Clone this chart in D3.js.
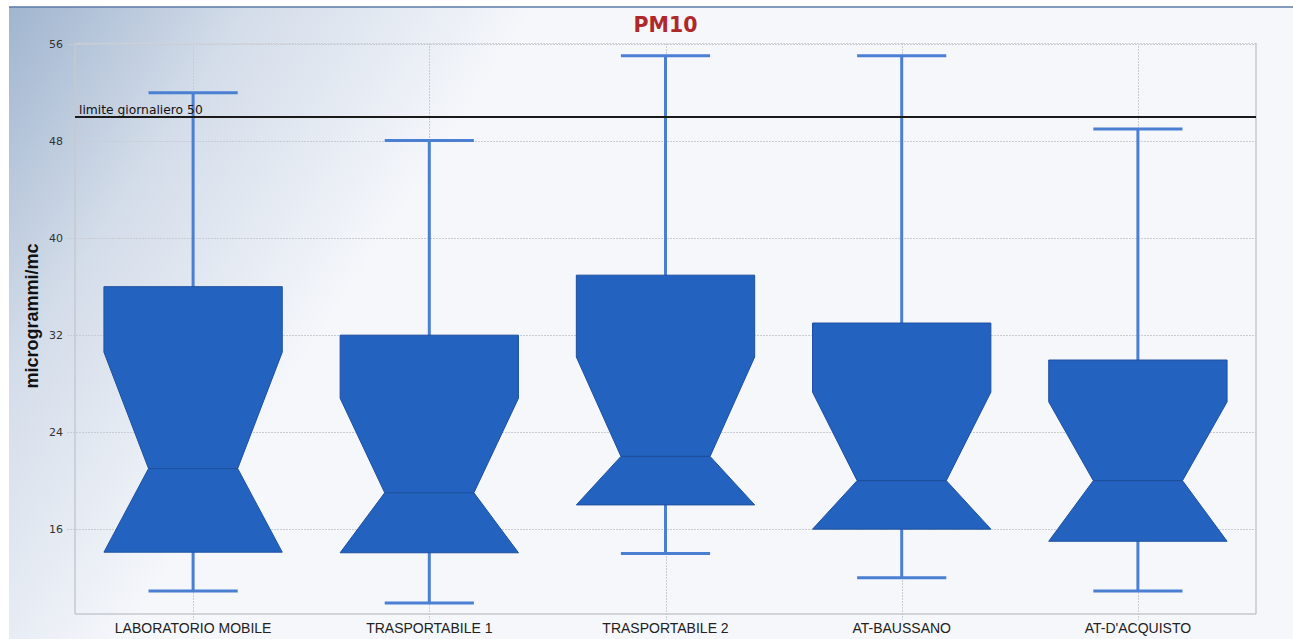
<!DOCTYPE html>
<html>
<head>
<meta charset="utf-8">
<script src="https://cdn.jsdelivr.net/npm/d3@7"></script>
<style>
  html, body { margin: 0; padding: 0; background: #ffffff; }
  svg { display: block; }
</style>
</head>
<body>
<svg id="chart" width="1293" height="639"></svg>
<script>
// ---- data ----
const categories = ["LABORATORIO MOBILE", "TRASPORTABILE 1", "TRASPORTABILE 2", "AT-BAUSSANO", "AT-D'ACQUISTO"];
const whiskerLow  = [10.9, 9.9, 14.0, 12.0, 10.9];
const q1          = [14.1, 14.05, 18.0, 16.0, 15.0];
const median      = [21.0, 19.0, 22.0, 20.0, 20.0];
const notchHigh   = [30.6, 26.8, 30.2, 27.3, 26.5];
const q3          = [36.0, 32.0, 36.95, 33.0, 29.95];
const whiskerHigh = [52.0, 48.05, 55.05, 55.05, 49.0];
const yTicks      = [16, 24, 32, 40, 48, 56];
const limitValue  = 50;
const limitLabel  = "limite giornaliero 50";
const titleText   = "PM10";
const yAxisTitle  = "microgrammi/mc";

// ---- layout ----
const svg = d3.select("#chart");
const W = 1293, H = 639;
const plot = { left: 75, right: 1256, top: 43, bottom: 614 };

const defs = svg.append("defs");
const grad = defs.append("linearGradient")
  .attr("id", "bg").attr("gradientUnits", "userSpaceOnUse")
  .attr("x1", 9).attr("y1", 7).attr("x2", 380).attr("y2", 250);
grad.append("stop").attr("offset", 0).attr("stop-color", "#a0b5cf");
grad.append("stop").attr("offset", 0.45).attr("stop-color", "#d3dce9");
grad.append("stop").attr("offset", 1).attr("stop-color", "#f5f7fb");

svg.append("rect").attr("x", 9).attr("y", 7).attr("width", W - 9).attr("height", H - 7)
  .attr("fill", "url(#bg)");
svg.append("line").attr("x1", 9).attr("x2", W).attr("y1", 7).attr("y2", 7)
  .attr("stroke", "#5a7aa9").attr("stroke-width", 1.5);

const x = d3.scaleBand().domain(categories).range([plot.left, plot.right]).padding(0);
const y = d3.scaleLinear().domain([9, 56.1]).range([plot.bottom, plot.top]);

// grid
const g = svg.append("g");
g.selectAll(".hgrid").data(yTicks).join("line")
  .attr("x1", plot.left - 8).attr("x2", plot.right)
  .attr("y1", d => Math.round(y(d)) + 0.5).attr("y2", d => Math.round(y(d)) + 0.5)
  .attr("stroke", "#c9ccd2").attr("stroke-width", 1).attr("stroke-dasharray", "2,1");
g.selectAll(".vgrid").data(categories).join("line")
  .attr("x1", d => Math.round(x(d) + x.bandwidth() / 2) + 0.5)
  .attr("x2", d => Math.round(x(d) + x.bandwidth() / 2) + 0.5)
  .attr("y1", plot.top).attr("y2", plot.bottom + 6)
  .attr("stroke", "#c9ccd2").attr("stroke-width", 1).attr("stroke-dasharray", "2,1");

// plot frame
g.append("line").attr("x1", plot.left).attr("x2", plot.right).attr("y1", plot.top + 0.5).attr("y2", plot.top + 0.5)
  .attr("stroke", "#cfd2d8").attr("stroke-dasharray", "2,1");
g.append("line").attr("x1", plot.left).attr("x2", plot.left).attr("y1", plot.top).attr("y2", plot.bottom)
  .attr("stroke", "#c6c9cf").attr("stroke-width", 1.5);
g.append("line").attr("x1", plot.right).attr("x2", plot.right).attr("y1", plot.top).attr("y2", plot.bottom)
  .attr("stroke", "#c6c9cf").attr("stroke-width", 1.5);
g.append("line").attr("x1", plot.left).attr("x2", plot.right).attr("y1", plot.bottom).attr("y2", plot.bottom)
  .attr("stroke", "#c6c9cf").attr("stroke-width", 1.5);

// y tick labels
const yAxis = d3.axisLeft(y).tickValues(yTicks).tickSize(0).tickPadding(0);
const ya = svg.append("g").attr("transform", `translate(${plot.left - 12},0)`).call(yAxis);
ya.select(".domain").remove();
ya.selectAll("text").attr("font-family", "DejaVu Sans").attr("font-size", 11).attr("fill", "#333");

// x tick labels
const xAxis = d3.axisBottom(x).tickSize(0).tickPadding(0);
const xa = svg.append("g").attr("transform", `translate(0,${plot.bottom + 9})`).call(xAxis);
xa.select(".domain").remove();
xa.selectAll("text").attr("font-family", "Liberation Sans").attr("font-size", 14).attr("fill", "#222");

// boxes
const data = categories.map((c, i) => ({
  c, lo: whiskerLow[i], q1: q1[i], med: median[i], nh: notchHigh[i], q3: q3[i], hi: whiskerHigh[i]
}));
const boxW = x.bandwidth() * 0.755;
const capW = boxW / 2;
const notchW = boxW / 2;
const whiskColor = "#4a7fd2";

const bg = svg.append("g");
data.forEach(d => {
  const cx = x(d.c) + x.bandwidth() / 2;
  bg.append("line").attr("x1", cx).attr("x2", cx).attr("y1", y(d.hi)).attr("y2", y(d.lo))
    .attr("stroke", whiskColor).attr("stroke-width", 3);
  [d.hi, d.lo].forEach(v => {
    bg.append("line").attr("x1", cx - capW / 2).attr("x2", cx + capW / 2)
      .attr("y1", y(v)).attr("y2", y(v))
      .attr("stroke", whiskColor).attr("stroke-width", 3);
  });
  const l = cx - boxW / 2, r = cx + boxW / 2;
  const nl = cx - notchW / 2, nr = cx + notchW / 2;
  const pts = [
    [l, y(d.q3)], [r, y(d.q3)], [r, y(d.nh)], [nr, y(d.med)], [r, y(d.q1)],
    [l, y(d.q1)], [nl, y(d.med)], [l, y(d.nh)]
  ];
  bg.append("path").attr("d", d3.line()(pts) + "Z")
    .attr("fill", "#2462bf").attr("stroke", "#1d50a0").attr("stroke-width", 1);
  bg.append("line").attr("x1", nl).attr("x2", nr).attr("y1", y(d.med)).attr("y2", y(d.med))
    .attr("stroke", "#1d4f9c").attr("stroke-width", 1.2);
});

// limit line
svg.append("line").attr("x1", plot.left).attr("x2", plot.right)
  .attr("y1", y(limitValue)).attr("y2", y(limitValue))
  .attr("stroke", "#1a1a1a").attr("stroke-width", 2);
svg.append("text").attr("x", plot.left + 4).attr("y", y(limitValue) - 3)
  .attr("font-family", "DejaVu Sans").attr("font-size", 12.3).attr("fill", "#111")
  .text(limitLabel);

// title
svg.append("text").attr("x", (plot.left + plot.right) / 2).attr("y", 32)
  .attr("text-anchor", "middle").attr("font-family", "DejaVu Sans").attr("font-weight", "bold")
  .attr("font-size", 20.5).attr("fill", "#b0282a").text(titleText);

// y axis title
svg.append("text").attr("transform", `translate(38,316) rotate(-90)`)
  .attr("text-anchor", "middle").attr("font-family", "Liberation Sans").attr("font-weight", "bold")
  .attr("font-size", 18).attr("fill", "#111").text(yAxisTitle);
</script>
</body>
</html>
